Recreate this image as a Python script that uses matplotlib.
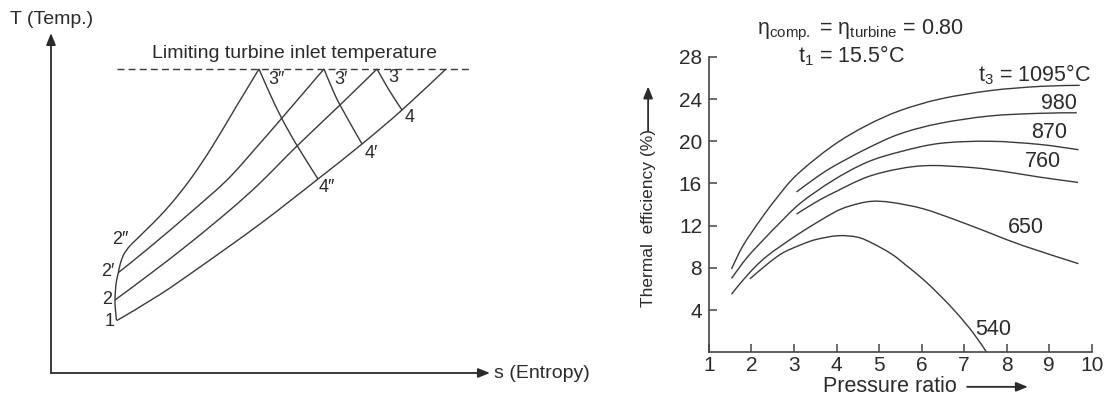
import matplotlib
matplotlib.use("Agg")
import matplotlib.pyplot as plt
from matplotlib.path import Path
from matplotlib.patches import PathPatch

# ---------------- data ----------------
# left sketch: T-s diagram, schematic units (s, T) with origin at the axis corner
comp_s = [65.5, 64.3, 64.0, 64.5, 65.5, 67.3, 69.5, 73.5, 79.7]   # compression 1 -> 2 -> 2' -> 2''
comp_T = [52.5, 65, 73, 83, 92, 100.3, 110, 120, 128]

low_s = [66, 109, 149, 209, 267, 311, 351, 395]   # low pressure line 1 - 4'' - 4' - 4
low_T = [52.5, 78.5, 106, 149, 194, 229, 263, 304]

p2_s = [64, 99, 139, 179, 209, 246, 289, 326]     # 2 -> 3
p2_T = [73, 99, 130, 163, 190, 227, 268, 304]
p2a_s = [67.3, 99, 139, 176, 204, 230.7, 273]     # 2' -> 3'
p2a_T = [100.3, 126, 160, 193, 224, 254.7, 304]
p2b_s = [79.7, 94, 109, 124, 141, 161, 185, 208]  # 2'' -> 3''
p2b_T = [128, 142, 157, 174, 196, 226, 266, 304]

exp2b_s = [208, 219, 230.7, 245.7, 267]           # 3'' -> 4''
exp2b_T = [304, 279, 254.7, 228, 194]
exp2a_s = [273, 280.5, 289, 311]                  # 3' -> 4'
exp2a_T = [304, 286, 268, 229]
exp1_s = [326, 338, 351]                          # 3 -> 4
exp1_T = [304, 283, 263]

t_limit = 304
limit_s = [66, 419]

state_names = ["1", "2", "2\u2032", "2\u2033", "3\u2033", "3\u2032", "3", "4", "4\u2032", "4\u2033"]
state_s = [59, 56, 57, 69, 226, 290, 342, 359, 320, 276]
state_T = [51, 73, 102, 134, 294, 294, 295, 256, 220, 185]

# right chart: thermal efficiency vs pressure ratio
x_1095 = [1.53, 1.8, 2.2, 2.55, 3.06, 3.92, 4.71, 5.49, 6.43, 7.61, 8.78, 9.72]
y_1095 = [7.9, 10.1, 12.5, 14.4, 16.8, 19.6, 21.5, 22.9, 24.0, 24.8, 25.2, 25.3]
x_980 = [3.06, 3.5, 3.92, 4.71, 5.49, 6.43, 7.61, 8.78, 9.65]
y_980 = [15.2, 16.5, 17.6, 19.3, 20.7, 21.7, 22.4, 22.65, 22.7]
x_870 = [1.53, 1.9, 2.36, 2.59, 3.14, 3.92, 4.71, 5.49, 6.43, 7.61, 8.78, 9.69]
y_870 = [7.0, 9.0, 11.0, 11.95, 14.1, 16.3, 18.0, 19.0, 19.8, 20.0, 19.7, 19.2]
x_760 = [3.06, 3.5, 3.92, 4.71, 5.49, 6.2, 7.2, 8.0, 8.78, 9.68]
y_760 = [13.1, 14.2, 15.1, 16.6, 17.4, 17.7, 17.5, 17.1, 16.6, 16.1]
x_650 = [1.53, 1.9, 2.36, 3.14, 3.92, 4.3, 4.8, 5.3, 6.04, 6.83, 7.61, 8.39, 9.69]
y_650 = [5.5, 7.3, 9.1, 11.3, 13.2, 13.85, 14.3, 14.2, 13.6, 12.5, 11.3, 10.1, 8.4]
x_540 = [1.96, 2.4, 2.75, 3.2, 3.53, 4.04, 4.5, 4.86, 5.3, 5.65, 6.04, 6.43, 6.83, 7.22, 7.53]
y_540 = [6.95, 8.45, 9.45, 10.25, 10.7, 11.05, 10.9, 10.3, 9.3, 8.2, 6.9, 5.4, 3.7, 1.8, 0.0]

curve_labels = ["t$_3$ = 1095\u00b0C", "980", "870", "760", "650", "540"]
label_x = [9.97, 9.23, 9.0, 8.86, 8.46, 7.68]
label_y = [26.3, 23.6, 20.8, 18.1, 11.8, 2.2]

x_ticks = [1, 2, 3, 4, 5, 6, 7, 8, 9, 10]
y_ticks = [4, 8, 12, 16, 20, 24, 28]

# ---------------- style ----------------
plt.rcParams["font.family"] = ["Liberation Sans", "DejaVu Sans"]
plt.rcParams["mathtext.fontset"] = "custom"
plt.rcParams["mathtext.rm"] = "Liberation Sans"
plt.rcParams["mathtext.it"] = "Liberation Sans:italic"
plt.rcParams["mathtext.bf"] = "Liberation Sans:bold"

ink = "#2b2b2b"
line_c = "#3a3a3a"


def smooth(ax, xs, ys, **kw):
    # catmull-rom through the read points, drawn as bezier path
    pts = list(zip(xs, ys))
    n = len(pts)
    verts = [pts[0]]
    codes = [Path.MOVETO]
    for i in range(n - 1):
        p0 = pts[i - 1] if i > 0 else pts[i]
        p1, p2 = pts[i], pts[i + 1]
        p3 = pts[i + 2] if i + 2 < n else pts[i + 1]
        c1 = (p1[0] + (p2[0] - p0[0]) / 6, p1[1] + (p2[1] - p0[1]) / 6)
        c2 = (p2[0] - (p3[0] - p1[0]) / 6, p2[1] - (p3[1] - p1[1]) / 6)
        verts += [c1, c2, p2]
        codes += [Path.CURVE4] * 3
    ax.add_patch(PathPatch(Path(verts, codes), fill=False, **kw))


fig = plt.figure(figsize=(11.1, 3.96), dpi=100)

# ---------------- left: T-s sketch ----------------
ax1 = fig.add_axes([0, 0, 0.6, 1])
ax1.set_xlim(-51, 615)
ax1.set_ylim(-23, 373)
ax1.axis("off")

arrow = dict(arrowstyle="-|>,head_length=0.7,head_width=0.28", color=ink, lw=1.3,
             shrinkA=0, shrinkB=0)
ax1.annotate("", xy=(0, 340), xytext=(0, 0), arrowprops=arrow)
ax1.annotate("", xy=(439, 0), xytext=(0, 0), arrowprops=arrow)
ax1.text(-41, 353, "T (Temp.)", ha="left", va="center", fontsize=14, color=ink)
ax1.text(443, 0, "s (Entropy)", ha="left", va="center", fontsize=14, color=ink)

for xs, ys in [(comp_s, comp_T), (low_s, low_T), (p2_s, p2_T), (p2a_s, p2a_T),
               (p2b_s, p2b_T), (exp2b_s, exp2b_T), (exp2a_s, exp2a_T), (exp1_s, exp1_T)]:
    smooth(ax1, xs, ys, edgecolor=line_c, lw=1.0)

ax1.plot(limit_s, [t_limit, t_limit], color=line_c, lw=1.0, ls=(0, (5, 3)))
ax1.text(243, 320, "Limiting turbine inlet temperature", ha="center", va="center",
         fontsize=14, color=ink)

for name, s, t in zip(state_names, state_s, state_T):
    ax1.text(s, t, name, ha="center", va="center", fontsize=13, color=ink)

# ---------------- right: efficiency chart ----------------
ax2 = fig.add_axes([0.6387, 0.1104, 0.3448, 0.746])
for xs, ys in [(x_1095, y_1095), (x_980, y_980), (x_870, y_870),
               (x_760, y_760), (x_650, y_650), (x_540, y_540)]:
    smooth(ax2, xs, ys, edgecolor=line_c, lw=1.0)

ax2.set_xlim(1, 10)
ax2.set_ylim(0, 28)
ax2.set_xticks(x_ticks)
ax2.set_yticks(y_ticks)
ax2.spines["top"].set_visible(False)
ax2.spines["right"].set_visible(False)
for sp in ["left", "bottom"]:
    ax2.spines[sp].set_color("#444444")
    ax2.spines[sp].set_linewidth(1.2)
ax2.tick_params(axis="both", direction="in", length=6, width=1.1, color="#444444",
                labelsize=15, labelcolor=ink)
ax2.tick_params(axis="x", pad=3)
ax2.tick_params(axis="y", pad=5)

for txt, lx, ly in zip(curve_labels, label_x, label_y):
    ha = "right" if txt.startswith("t") else "center"
    ax2.text(lx, ly, txt, ha=ha, va="center", fontsize=15.5, color=ink)

# title lines
ax2.text(4.57, 1.09, "\u03b7$_{\\mathrm{comp.}}$ = \u03b7$_{\\mathrm{turbine}}$ = 0.80",
         transform=ax2.get_xaxis_transform(), ha="center", va="center", fontsize=15.5, color=ink)
ax2.text(4.36, 1.005, "t$_1$ = 15.5\u00b0C", transform=ax2.get_xaxis_transform(),
         ha="center", va="center", fontsize=15.5, color=ink)

# axis labels with arrows
ax2.text(5.26, -0.117, "Pressure ratio", transform=ax2.get_xaxis_transform(),
         ha="center", va="center", fontsize=15.5, color=ink)
ax2.annotate("", xy=(8.50, -0.117), xytext=(7.07, -0.117), xycoords=ax2.get_xaxis_transform(),
             arrowprops=arrow, annotation_clip=False)
ax2.text(-0.159, 12.7, "Thermal  efficiency (%)", transform=ax2.get_yaxis_transform(),
         ha="center", va="center", rotation=90, fontsize=12.5, color=ink)
ax2.annotate("", xy=(-0.159, 25.2), xytext=(-0.159, 21.0), xycoords=ax2.get_yaxis_transform(),
             arrowprops=arrow, annotation_clip=False)

fig.savefig("out.png", dpi=100)
